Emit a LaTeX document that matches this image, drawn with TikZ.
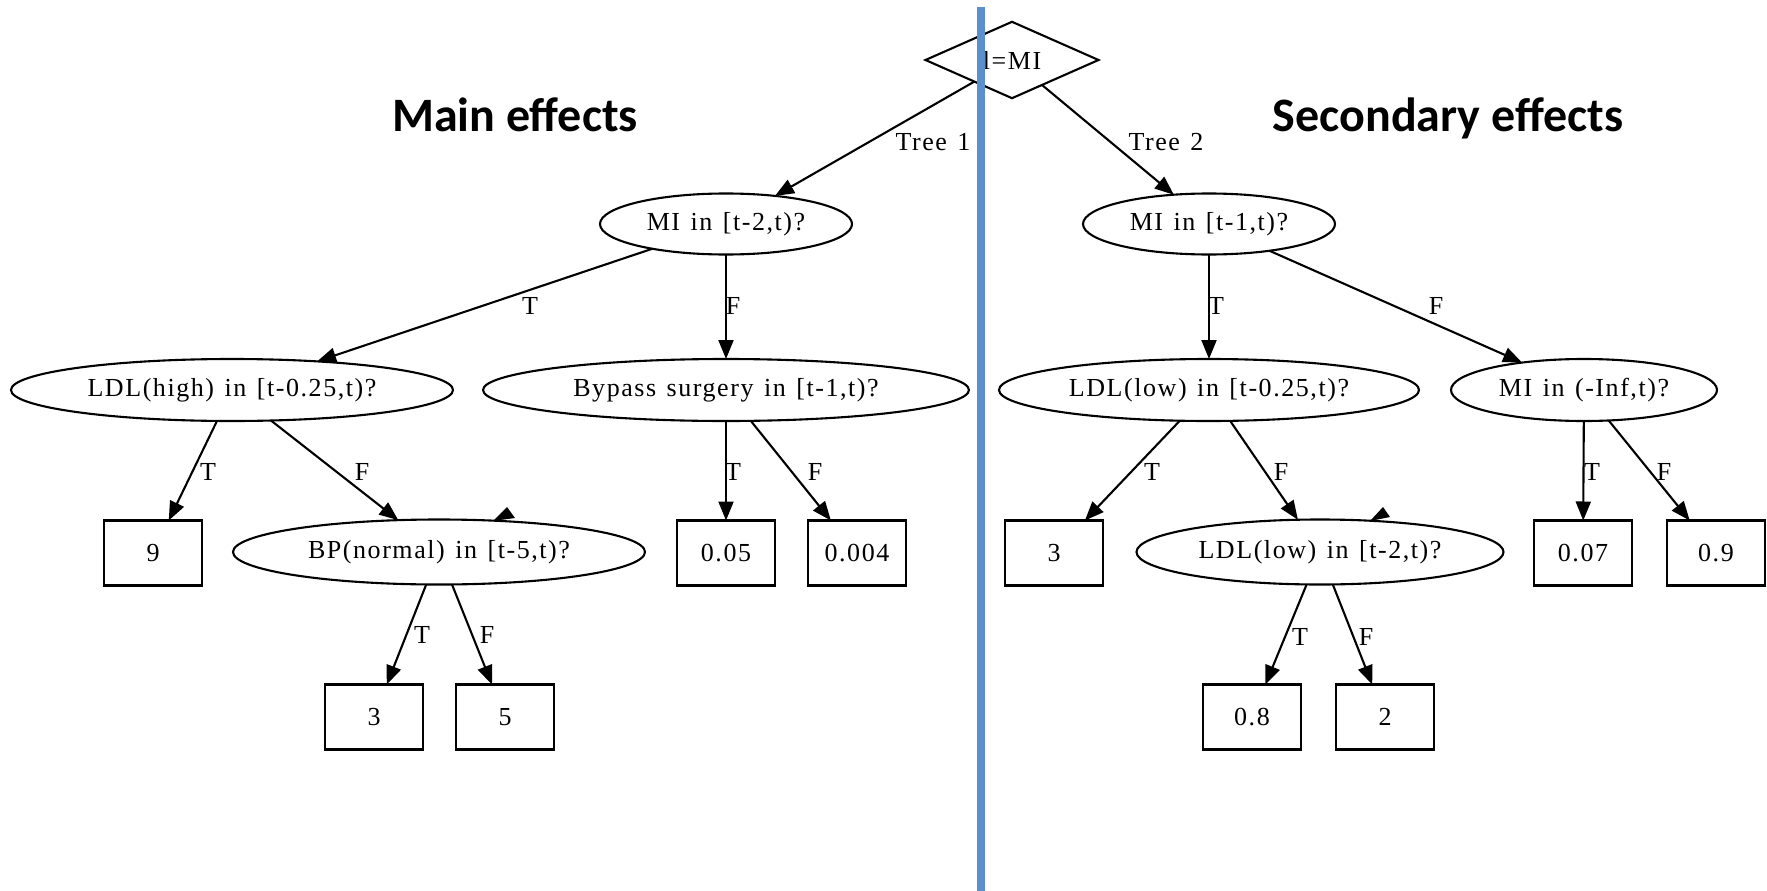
\documentclass[tikz,border=0pt]{standalone}
\usepackage{fontspec}
\setmainfont{Liberation Serif}
\newfontfamily\nodefont[LetterSpace=6,WordSpace=1.3]{Liberation Serif}
\newfontfamily\titlefont{Carlito}
\usetikzlibrary{shapes.geometric,arrows.meta}
\definecolor{divider}{RGB}{92,144,204}

\begin{document}
\begin{tikzpicture}[x=1pt,y=-1pt,
  every node/.style={font=\nodefont\fontsize{26}{31}\selectfont, text=black},
  test/.style={ellipse, draw, line width=2.1pt, inner sep=0pt, outer sep=0pt, minimum height=62pt},
  leaf/.style={rectangle, draw, line width=2.1pt, inner sep=0pt, outer sep=0pt, minimum width=98pt, minimum height=65pt},
  edge/.style={line width=2.1pt, -{Triangle[length=19pt,width=15pt]}},
  lbl/.style={inner sep=0pt},
  heading/.style={font=\titlefont\bfseries\fontsize{48}{56}\selectfont, anchor=base}
]
\useasboundingbox (0,0) rectangle (1767,891);

% headings
\node[heading] (hmain) at (515,131) {Main effects};
\node[heading] (hsec) at (1448,131) {Secondary effects};

% root
\node[diamond, draw, line width=2.1pt, inner sep=0pt, outer sep=0pt,
      minimum width=173pt, minimum height=67pt] (root) at (1012,60) {l=MI};

% tree 1
\node[test, minimum width=252pt, minimum height=61pt] (mia) at (726,224) {MI in [t-2,t)?};
\node[test, minimum width=442pt] (ldlh) at (232,390) {LDL(high) in [t-0.25,t)?};
\node[test, minimum width=486pt] (byp) at (726,390) {Bypass surgery in [t-1,t)?};
\node[leaf] (l9) at (153,553) {9};
\node[test, minimum width=412pt, minimum height=65pt] (bp) at (439,552) {BP(normal) in [t-5,t)?};
\node[leaf] (l005) at (726,553) {0.05};
\node[leaf] (l0004) at (857,553) {0.004};
\node[leaf] (l3a) at (374,717) {3};
\node[leaf] (l5) at (505,717) {5};

% tree 2
\node[test, minimum width=252pt, minimum height=61pt] (mib) at (1209,224) {MI in [t-1,t)?};
\node[test, minimum width=420pt] (ldll) at (1209,390) {LDL(low) in [t-0.25,t)?};
\node[test, minimum width=266pt] (miinf) at (1584,390) {MI in (-Inf,t)?};
\node[leaf] (l3b) at (1054,553) {3};
\node[test, minimum width=367pt, minimum height=65pt] (ldl2) at (1320,552) {LDL(low) in [t-2,t)?};
\node[leaf] (l007) at (1583,553) {0.07};
\node[leaf] (l09) at (1716,553) {0.9};
\node[leaf] (l08) at (1252,717) {0.8};
\node[leaf] (l2) at (1385,717) {2};

% connectors
\draw[edge] (root) -- (mia);
\draw[edge] (root) -- (mib);
\draw[edge] (mia) -- (ldlh);
\draw[edge] (mia) -- (byp);
\draw[edge] (ldlh) -- (l9);
\draw[edge] (ldlh) -- (bp);
\draw[edge] (byp) -- (l005);
\draw[edge] (byp) -- (l0004);
\draw[edge] (bp) -- (l3a);
\draw[edge] (bp) -- (l5);
\draw[edge] (mib) -- (ldll);
\draw[edge] (mib) -- (miinf);
\draw[edge] (ldll) -- (l3b);
\draw[edge] (ldll) -- (ldl2);
\draw[edge] (miinf) -- (l007);
\draw[edge] (miinf) -- (l09);
\draw[edge] (ldl2) -- (l08);
\draw[edge] (ldl2) -- (l2);

% loose arrowheads resting on two of the ellipses
\fill (493,521) -- (507,507) -- (515,518) -- cycle;
\fill (1370,521) -- (1383,507) -- (1390,517) -- cycle;

% connector labels
\node[lbl] (t1) at (933,142) {Tree 1};
\node[lbl] (t2) at (1166,142) {Tree 2};
\node[lbl] (e1) at (530,306) {T};
\node[lbl] (e2) at (733,306) {F};
\node[lbl] (e3) at (1216,306) {T};
\node[lbl] (e4) at (1436,306) {F};
\node[lbl] (e5) at (208,472) {T};
\node[lbl] (e6) at (362,472) {F};
\node[lbl] (e7) at (733,472) {T};
\node[lbl] (e8) at (815,472) {F};
\node[lbl] (e9) at (422,635) {T};
\node[lbl] (e10) at (487,635) {F};
\node[lbl] (e11) at (1152,472) {T};
\node[lbl] (e12) at (1281,472) {F};
\node[lbl] (e13) at (1592,472) {T};
\node[lbl] (e14) at (1664,472) {F};
\node[lbl] (e15) at (1300,637) {T};
\node[lbl] (e16) at (1366,637) {F};

% divider
\coordinate (dtop) at (981,7);
\coordinate (dbot) at (981,891);
\draw[divider, line width=8pt] (dtop) -- (dbot);
\end{tikzpicture}
\end{document}
